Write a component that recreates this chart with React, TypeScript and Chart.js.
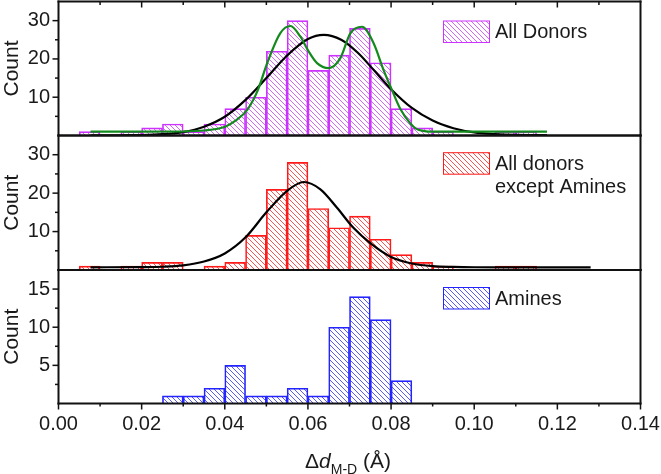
import { useEffect, useRef } from 'react';
import { Chart, registerables } from 'chart.js';

Chart.register(...registerables);

const FONT = '"Liberation Sans", Arial, Helvetica, sans-serif';
const INK = '#1a1a1a';
const W = 661;
const H = 474;

// Histogram bins (centres, width 0.005 Å)
const donorBinCenters = [
  0.0075, 0.0125, 0.0175, 0.0225, 0.0275, 0.0325, 0.0375, 0.0425, 0.0475, 0.0525, 0.0575,
  0.0625, 0.0675, 0.0725, 0.0775, 0.0825, 0.0875, 0.0925, 0.0975, 0.1025, 0.1075, 0.1125,
];
const allDonorCounts = [1, 0, 1, 2, 3, 1, 3, 7, 10, 22, 30, 17, 21, 28, 19, 7, 2, 1, 0, 0, 1, 1];
const exceptAmineCounts = [1, 0, 1, 2, 2, 0, 1, 2, 9, 21, 28, 16, 11, 14, 8, 4, 2, 1, 0, 0, 1, 1];

const amineBinCenters = [
  0.0275, 0.0325, 0.0375, 0.0425, 0.0475, 0.0525, 0.0575, 0.0625, 0.0675, 0.0725, 0.0775, 0.0825,
];
const amineCounts = [1, 1, 2, 5, 1, 1, 2, 1, 10, 14, 11, 3];

// Single-Gaussian fit, all donors
const allFitX = [
  0.0077, 0.015, 0.02, 0.025, 0.03, 0.035, 0.04, 0.045, 0.05, 0.055, 0.06, 0.0638, 0.068, 0.072,
  0.076, 0.08, 0.085, 0.09, 0.095, 0.1, 0.105, 0.11, 0.1175,
];
const allFitY = [
  0.05, 0.07, 0.12, 0.35, 0.9, 2.3, 4.9, 9.3, 15.0, 20.9, 25.2, 26.3, 25.0, 21.6, 16.9, 12.1, 7.2,
  3.9, 1.9, 0.8, 0.35, 0.15, 0.1,
];

// Two-peak fit, all donors
const twoPeakX = [
  0.0077, 0.02, 0.03, 0.035, 0.0401, 0.0425, 0.0454, 0.048, 0.0502, 0.0534, 0.0558, 0.0582, 0.0602,
  0.0622, 0.065, 0.0678, 0.0702, 0.073, 0.0758, 0.0782, 0.0802, 0.0822, 0.0846, 0.086, 0.088, 0.09,
  0.1175,
];
const twoPeakY = [
  1.0, 1.0, 1.05, 1.3, 2.3, 3.8, 6.7, 12.0, 18.9, 26.8, 28.6, 25.8, 21.9, 18.9, 17.6, 20.2, 26.7,
  28.4, 24.1, 17.1, 11.9, 7.0, 3.2, 1.8, 1.15, 1.0, 1.0,
];

// Gaussian fit, donors without amines
const exceptFitX = [
  0.0077, 0.02, 0.025, 0.03, 0.035, 0.04, 0.045, 0.05, 0.055, 0.059, 0.063, 0.067, 0.071, 0.075,
  0.08, 0.085, 0.09, 0.095, 0.1, 0.11, 0.128,
];
const exceptFitY = [
  0.7, 0.75, 0.85, 1.2, 2.2, 4.3, 8.5, 15.0, 20.6, 22.9, 21.0, 16.2, 10.9, 7.0, 3.4, 1.7, 1.0, 0.8,
  0.72, 0.7, 0.7,
];

const X_MIN = 0;
const X_MAX = 0.14;
const xTickValues = [0, 0.02, 0.04, 0.06, 0.08, 0.1, 0.12, 0.14];
const countTicks = [10, 20, 30];
const amineCountTicks = [5, 10, 15];

type Curve = { xs: number[]; ys: number[]; color: string };
type Panel = {
  top: number;
  bottom: number;
  yMax: number;
  yTicks: number[];
  yMinor: number;
  centers: number[];
  counts: number[];
  color: string;
  curves: Curve[];
  legend: string[];
  legendBoxTop: number;
  topTicks: boolean;
  showX: boolean;
};

const MAGENTA = '#CC33FF';
const RED = '#FF1A1A';
const BLUE = '#2424FF';
const GREEN = '#138A1C';
const BLACK = '#000000';

const panels: Panel[] = [
  {
    top: 1.5,
    bottom: 135.5,
    yMax: 35,
    yTicks: countTicks,
    yMinor: 5,
    centers: donorBinCenters,
    counts: allDonorCounts,
    color: MAGENTA,
    curves: [
      { xs: twoPeakX, ys: twoPeakY, color: GREEN },
      { xs: allFitX, ys: allFitY, color: BLACK },
    ],
    legend: ['All Donors'],
    legendBoxTop: 21,
    topTicks: true,
    showX: false,
  },
  {
    top: 135.5,
    bottom: 270,
    yMax: 35,
    yTicks: countTicks,
    yMinor: 5,
    centers: donorBinCenters,
    counts: exceptAmineCounts,
    color: RED,
    curves: [{ xs: exceptFitX, ys: exceptFitY, color: BLACK }],
    legend: ['All donors', 'except Amines'],
    legendBoxTop: 152.7,
    topTicks: false,
    showX: false,
  },
  {
    top: 270,
    bottom: 403.5,
    yMax: 17.5,
    yTicks: amineCountTicks,
    yMinor: 2.5,
    centers: amineBinCenters,
    counts: amineCounts,
    color: BLUE,
    curves: [],
    legend: ['Amines'],
    legendBoxTop: 287.5,
    topTicks: false,
    showX: true,
  },
];

function hatch(color: string): CanvasPattern {
  const s = 5;
  const c = document.createElement('canvas');
  c.width = s;
  c.height = s;
  const g = c.getContext('2d')!;
  g.strokeStyle = color;
  g.lineWidth = 0.9;
  g.globalAlpha = 0.85;
  for (const k of [-1, 0, 1]) {
    g.beginPath();
    g.moveTo(k * s, 0);
    g.lineTo(k * s + s, s);
    g.stroke();
  }
  return g.createPattern(c, 'repeat')!;
}

function framePlugin(p: Panel, pattern: CanvasPattern) {
  return {
    id: 'panelFrame',
    afterDraw(chart: Chart) {
      const { ctx } = chart;
      const x = chart.scales.x;
      const y = chart.scales.y;
      // frame edges taken from the scales themselves
      const left = x.getPixelForValue(X_MIN);
      const right = x.getPixelForValue(X_MAX);
      const top = y.getPixelForValue(p.yMax);
      const bottom = y.getPixelForValue(0);
      const line = (x1: number, y1: number, x2: number, y2: number) => {
        ctx.beginPath();
        ctx.moveTo(x1, y1);
        ctx.lineTo(x2, y2);
        ctx.stroke();
      };
      ctx.save();
      ctx.strokeStyle = '#111111';
      ctx.lineCap = 'butt';

      // count axis ticks (outward)
      ctx.lineWidth = 1.5;
      const n = Math.round(p.yMax / p.yMinor);
      for (let i = 1; i < n; i++) {
        const v = i * p.yMinor;
        const major = p.yTicks.includes(v);
        const py = y.getPixelForValue(v);
        line(left - (major ? 6 : 3.5), py, left, py);
      }

      // top edge ticks (inward)
      if (p.topTicks) {
        for (let i = 1; i < 14; i++) {
          const px = x.getPixelForValue(i / 100);
          line(px, top, px, top + (i % 2 === 0 ? 6 : 3.5));
        }
      }

      // bottom axis ticks (outward)
      if (p.showX) {
        for (let i = 0; i <= 14; i++) {
          const px = x.getPixelForValue(i / 100);
          line(px, bottom, px, bottom + (i % 2 === 0 ? 6 : 3));
        }
      }

      // frame
      ctx.lineWidth = 2;
      line(left, top - 1, left, bottom + 1);
      line(left - 1, bottom, right + 1, bottom);
      line(left - 1, top, right + 1, top);
      line(right, top - 1, right, bottom + 1);

      // legend
      const bx = 443.5;
      const bw = 46;
      const bh = 21.5;
      const by = p.legendBoxTop;
      ctx.fillStyle = pattern;
      ctx.fillRect(bx, by, bw, bh);
      ctx.strokeStyle = p.color;
      ctx.lineWidth = 1;
      ctx.strokeRect(bx, by, bw, bh);
      ctx.fillStyle = INK;
      ctx.font = `20px ${FONT}`;
      ctx.textBaseline = 'middle';
      ctx.textAlign = 'left';
      p.legend.forEach((t, i) => ctx.fillText(t, 495, by + bh / 2 + 1 + i * 23));

      // x-axis title: Δd_M-D (Å)
      if (p.showX) {
        const big = `21px ${FONT}`;
        const ital = `italic 21px ${FONT}`;
        const sub = `14px ${FONT}`;
        const parts: [string, string, number][] = [
          ['Δ', big, 0],
          ['d', ital, 0],
          ['M-D', sub, 6],
          [' (Å)', big, 0],
        ];
        let total = 0;
        for (const [t, f] of parts) {
          ctx.font = f;
          total += ctx.measureText(t).width;
        }
        let cx = 348 - total / 2;
        const base = 467.5;
        ctx.textBaseline = 'alphabetic';
        for (const [t, f, dy] of parts) {
          ctx.font = f;
          ctx.fillText(t, cx, base + dy);
          cx += ctx.measureText(t).width;
        }
      }
      ctx.restore();
    },
  };
}

function PanelChart({ panel }: { panel: Panel }) {
  const ref = useRef<HTMLCanvasElement>(null);
  useEffect(() => {
    const canvas = ref.current!;
    const pattern = hatch(panel.color);
    const chart = new Chart(canvas, {
      data: {
        datasets: [
          ...panel.curves.map((c, i) => ({
            type: 'line' as const,
            data: c.xs.map((x, j) => ({ x, y: c.ys[j] })),
            borderColor: c.color,
            borderWidth: 2.2,
            pointRadius: 0,
            cubicInterpolationMode: 'monotone' as const,
            fill: false,
            order: i,
          })),
          {
            type: 'bar' as const,
            data: panel.centers.map((x, i) => ({ x, y: panel.counts[i] })),
            backgroundColor: pattern,
            borderColor: panel.color,
            borderWidth: 1,
            barPercentage: 1,
            categoryPercentage: 1,
            order: 10,
          },
        ],
      },
      options: {
        animation: false,
        responsive: false,
        maintainAspectRatio: false,
        events: [],
        layout: {
          padding: {
            top: panel.top,
            bottom: panel.showX ? 0 : H - panel.bottom,
            left: 0,
            right: 20.5,
          },
        },
        plugins: { legend: { display: false }, tooltip: { enabled: false } },
        scales: {
          x: {
            type: 'linear',
            min: X_MIN,
            max: X_MAX,
            offset: false,
            display: panel.showX,
            grid: { display: false, drawTicks: false },
            border: { display: false },
            afterBuildTicks: (s: any) => {
              s.ticks = xTickValues.map((v) => ({ value: v }));
            },
            afterFit: (s: any) => {
              s.height = panel.showX ? H - panel.bottom : 0;
              s.paddingLeft = 0;
              s.paddingRight = 0;
            },
            ticks: {
              autoSkip: false,
              maxRotation: 0,
              padding: 9,
              color: INK,
              font: { family: FONT, size: 20 },
              callback: (v: any) => Number(v).toFixed(2),
            },
          },
          y: {
            type: 'linear',
            min: 0,
            max: panel.yMax,
            grid: { display: false, drawTicks: false },
            border: { display: false },
            afterBuildTicks: (s: any) => {
              s.ticks = panel.yTicks.map((v) => ({ value: v }));
            },
            afterFit: (s: any) => {
              s.width = 58.5;
              s.paddingTop = 0;
              s.paddingBottom = 0;
            },
            ticks: {
              autoSkip: false,
              padding: 8.5,
              color: INK,
              font: { family: FONT, size: 20 },
              callback: (v: any) => String(v),
            },
            title: {
              display: true,
              text: 'Count',
              color: INK,
              font: { family: FONT, size: 21 },
              padding: { top: 0, bottom: 0 },
            },
          },
        },
      },
      plugins: [framePlugin(panel, pattern)],
    } as any);
    return () => chart.destroy();
  }, [panel]);
  return (
    <canvas
      ref={ref}
      width={W}
      height={H}
      style={{ position: 'absolute', left: 0, top: 0, width: W, height: H }}
    />
  );
}

export default function App() {
  return (
    <div
      style={{
        position: 'fixed',
        left: 0,
        top: 0,
        width: W,
        height: H,
        background: '#ffffff',
        overflow: 'hidden',
      }}
    >
      {panels.map((p, i) => (
        <PanelChart key={i} panel={p} />
      ))}
    </div>
  );
}
